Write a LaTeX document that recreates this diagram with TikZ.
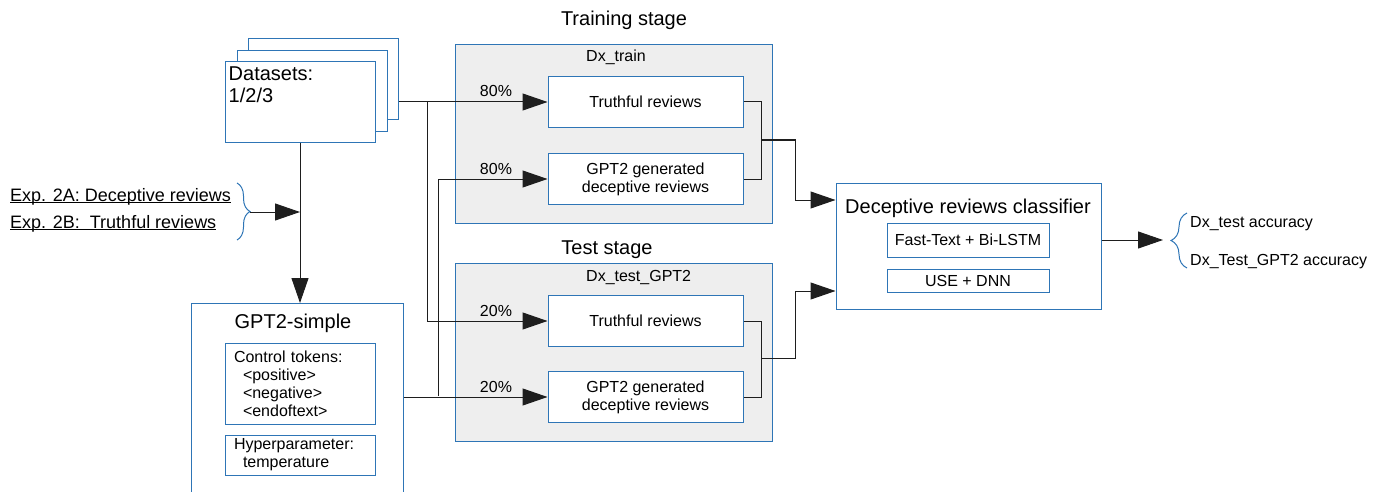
\documentclass[tikz,border=0pt]{standalone}
\usepackage{fontspec}
\setmainfont{Liberation Sans}
\usetikzlibrary{arrows.meta, positioning, decorations.pathreplacing, calc}

\definecolor{boxblue}{RGB}{46,117,182}
\definecolor{stagegray}{RGB}{238,238,238}
\definecolor{linegray}{RGB}{30,30,30}

% underline sitting just under the baseline
\newcommand{\baseuline}[1]{\setbox0\hbox{#1}\rlap{\rule[-1.6pt]{\wd0}{0.8pt}}\box0}

\begin{document}
\begin{tikzpicture}[x=1pt, y=-1pt,
    bigtxt/.style={font=\fontsize{20}{22}\selectfont},
    midtxt/.style={font=\fontsize{16}{18}\selectfont},
    bluebox/.style={draw=boxblue, line width=1pt, fill=white, inner sep=0pt},
    stagebox/.style={bluebox, fill=stagegray, minimum width=317pt, minimum height=178pt},
    reviewbox/.style={bluebox, midtxt, align=center, minimum width=195pt, minimum height=51pt},
    databox/.style={bluebox, minimum width=150pt, minimum height=81pt},
    wire/.style={draw=linegray, line width=1pt},
    arr/.style={wire, -{Triangle[length=25pt, width=17pt]}},
    pct/.style={midtxt, anchor=base east, inner sep=0pt, xshift=-35pt, yshift=5pt},
    bluebrace/.style={draw=boxblue, line width=1pt, decorate, decoration={brace, amplitude=#1}}]

  \useasboundingbox (0,0) rectangle (1386,492);

  % datasets stack
  \node[databox] (data3) at (323,79.5) {};
  \node[databox] (data2) at (312,91) {};
  \node[databox, minimum height=80pt,
        label={[bigtxt, align=left, anchor=north west, inner xsep=4pt, inner ysep=5pt]north west:{Datasets:\\1/2/3}}]
        (data1) at (300,102) {};

  % stages
  \node[stagebox] (train) at (613.5,134) {};
  \node[stagebox] (test) at (613.5,352) {};
  \node[bigtxt, anchor=base] (traintitle) at (624,26) {Training stage};
  \node[bigtxt, anchor=base] (testtitle) at (607,254) {Test stage};
  \node[midtxt, anchor=base west, inner sep=0pt] (trainname) at (586,62) {Dx\_train};
  \node[midtxt, anchor=base west, inner sep=0pt] (testname) at (586,281) {Dx\_test\_GPT2};

  \node[reviewbox] (trtrain) at (645.5,102) {Truthful reviews};
  \node[reviewbox, below=25pt of trtrain] (gptrain) {GPT2 generated\\deceptive reviews};
  \node[reviewbox] (trtest) at (645.5,321) {Truthful reviews};
  \node[reviewbox, below=24pt of trtest] (gptest) {GPT2 generated\\deceptive reviews};

  % GPT2-simple
  \node[bluebox, minimum width=212pt, minimum height=200pt, anchor=north] (gsimple) at (297,303) {};
  \node[bigtxt, anchor=base] (gstitle) at (293,328) {GPT2-simple};
  \node[bluebox, midtxt, align=left, text width=132pt, minimum height=81pt, inner xsep=9pt] (ctrl) at (300,383.5)
    {Control tokens:\\\hspace*{9pt}<positive>\\\hspace*{9pt}<negative>\\\hspace*{9pt}<endoftext>};
  \node[bluebox, midtxt, align=left, text width=132pt, minimum height=40pt, inner xsep=9pt] (hyper) at (300,455)
    {Hyperparameter:\\\hspace*{9pt}temperature};

  % classifier
  \node[bluebox, minimum width=265pt, minimum height=126pt] (clf) at (968.5,246) {};
  \node[bigtxt, anchor=base] (clftitle) at (968,213) {Deceptive reviews classifier};
  \node[bluebox, midtxt, minimum width=162pt, minimum height=34pt] (fasttext) at (968,240) {Fast-Text + Bi-LSTM};
  \node[bluebox, midtxt, minimum width=162pt, minimum height=23pt] (usednn) at (968,280.5) {USE + DNN};

  % outputs
  \coordinate (outtip) at (1163,240);
  \draw[bluebrace=16pt] (1187,268) -- (1187,213);
  \node[midtxt, anchor=base west, inner sep=0pt] (acc1) at (1190,227) {Dx\_test accuracy};
  \node[midtxt, anchor=base west, inner sep=0pt] (acc2) at (1190,265) {Dx\_Test\_GPT2 accuracy};
  \draw[arr] ([yshift=6pt]clf.east) -- (outtip);

  % experiments
  \node[font=\fontsize{18}{21}\selectfont, anchor=base west, inner sep=0pt] (exp2a) at (10,201)
    {\baseuline{Exp. 2A: Deceptive reviews}};
  \node[font=\fontsize{18}{21}\selectfont, anchor=base west, inner sep=0pt] (exp2b) at (10,228)
    {\baseuline{Exp. 2B:\ \ Truthful reviews}};
  \coordinate (exptip) at (250,212);
  \draw[bluebrace=13pt] (237,183) -- (237,240);
  \draw[arr] (exptip) -- (exptip -| data1.south);

  % split of the data
  \coordinate (splitA) at (427,102);
  \coordinate (splitB) at (438,396);
  \draw[wire] (data3.east |- data1) -- (splitA);
  \draw[arr] (splitA) -- (trtrain.west) node[pct, pos=1] {80\%};
  \draw[arr] (splitA) |- (trtest.west) node[pct, pos=1] {20\%};
  \draw[arr] (gsimple.east |- gptest) -- (gptest.west) node[pct, pos=1] {20\%};
  \draw[arr] (splitB) |- (gptrain.west) node[pct, pos=1] {80\%};
  \draw[arr] (data1.south) -- (data1.south |- gsimple.north);

  % merge into the classifier
  \coordinate (busA) at (761,140);
  \coordinate (busB) at (761,358.5);
  \draw[wire] (trtrain.east) -| (busA) |- (gptrain.east);
  \draw[arr] (busA) -- ++(34,0) |- ([yshift=46pt]clf.west);
  \draw[wire] (trtest.east) -| (busB) |- (gptest.east);
  \draw[arr] (busB) -- ++(34,0) |- ([yshift=-45pt]clf.west);
\end{tikzpicture}
\end{document}
